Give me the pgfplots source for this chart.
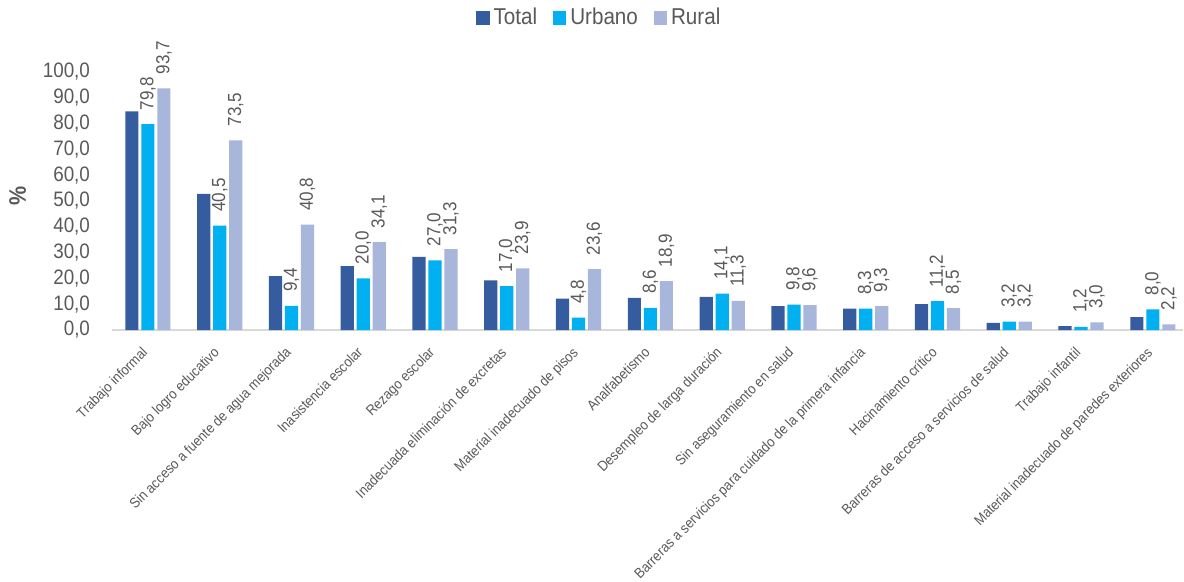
\documentclass[border=0pt]{standalone}
\usepackage{fontspec}
\setmainfont[FakeStretch=0.9]{Liberation Sans}
\usepackage{pgfplots}
\pgfplotsset{compat=1.18}
\definecolor{cTotal}{RGB}{54,92,160}
\definecolor{cUrb}{RGB}{0,176,240}
\definecolor{cRur}{RGB}{169,182,220}
\definecolor{txt}{RGB}{89,89,89}
\definecolor{axgray}{RGB}{217,217,217}
\begin{document}
\begin{tikzpicture}
\begin{axis}[
  scale only axis,
  width=535.5bp, height=129bp,
  at={(0,0)}, anchor=south west,
  xmin=-0.5, xmax=14.42,
  ymin=0, ymax=100,
  clip=false,
  ybar, bar width=6.6bp,
  axis x line*=bottom, axis y line*=left,
  x axis line style={-, draw=axgray, line width=1.2bp},
  y axis line style={draw=none},
  major tick length=0pt,
  xtick={0,...,14},
  xticklabels={Trabajo informal, Bajo logro educativo, Sin acceso a fuente de agua mejorada, Inasistencia escolar, Rezago escolar, Inadecuada eliminación de excretas, Material inadecuado de pisos, Analfabetismo, Desempleo de larga duración, Sin aseguramiento en salud, Barreras a servicios para cuidado de la primera infancia, Hacinamiento crítico, Barreras de acceso a servicios de salud, Trabajo infantil, Material inadecuado de paredes exteriores},
  xticklabel style={rotate=45, anchor=north east, font=\fontsize{7.2}{8}\selectfont, text=txt, inner sep=1pt, yshift=-2bp, xshift=-7bp},
  ytick={0,10,...,100},
  yticklabel style={font=\fontsize{10.5}{12}\selectfont, text=txt, xshift=-7.5bp},
  /pgf/number format/assume math mode=true,
  yticklabel={\pgfmathprintnumber[fixed,fixed zerofill,precision=1,use comma]{\tick}},
  ylabel={\textbf{\%}},
  ylabel style={at={(axis description cs:-0.088,0.52)}, rotate=0, anchor=center, font=\fontsize{12}{14}\selectfont, text=txt},
  legend columns=-1,
  legend style={draw=none, at={(axis description cs:0.456,1.209)}, anchor=center, font=\fontsize{11.5}{13}\selectfont, text=txt, /tikz/every even column/.append style={column sep=6bp}},
  legend image code/.code={\fill[#1] (0bp,-3.3bp) rectangle (6.6bp,3.3bp);},
  every node near coord/.append style={rotate=90, anchor=west, font=\fontsize{9.5}{11}\selectfont, text=txt, inner sep=0pt, outer xsep=7bp},
]
\addplot[fill=cTotal, draw=none, bar shift=-8bp] coordinates {
(0,84.7) (1,52.8) (2,20.9) (3,24.8) (4,28.3) (5,19.2) (6,12.2) (7,12.5) (8,12.8) (9,9.3) (10,8.3) (11,10.0) (12,2.8) (13,1.5) (14,5.0)};
\addlegendentry{Total}
\addplot[fill=cUrb, draw=none, bar shift=0bp,
  nodes near coords={\pgfmathprintnumber[fixed,fixed zerofill,precision=1,use comma]{\pgfplotspointmeta}}] coordinates {
(0,79.8) (1,40.5) (2,9.4) (3,20.0) (4,27.0) (5,17.0) (6,4.8) (7,8.6) (8,14.1) (9,9.8) (10,8.3) (11,11.2) (12,3.2) (13,1.2) (14,8.0)};
\addlegendentry{Urbano}
\addplot[fill=cRur, draw=none, bar shift=8bp,
  nodes near coords={\pgfmathprintnumber[fixed,fixed zerofill,precision=1,use comma]{\pgfplotspointmeta}}] coordinates {
(0,93.7) (1,73.5) (2,40.8) (3,34.1) (4,31.3) (5,23.9) (6,23.6) (7,18.9) (8,11.3) (9,9.6) (10,9.3) (11,8.5) (12,3.2) (13,3.0) (14,2.2)};
\addlegendentry{Rural}
\end{axis}
\pgfresetboundingbox
\path[use as bounding box] (-56bp,-126bp) rectangle (536bp,165bp);
\end{tikzpicture}
\end{document}
